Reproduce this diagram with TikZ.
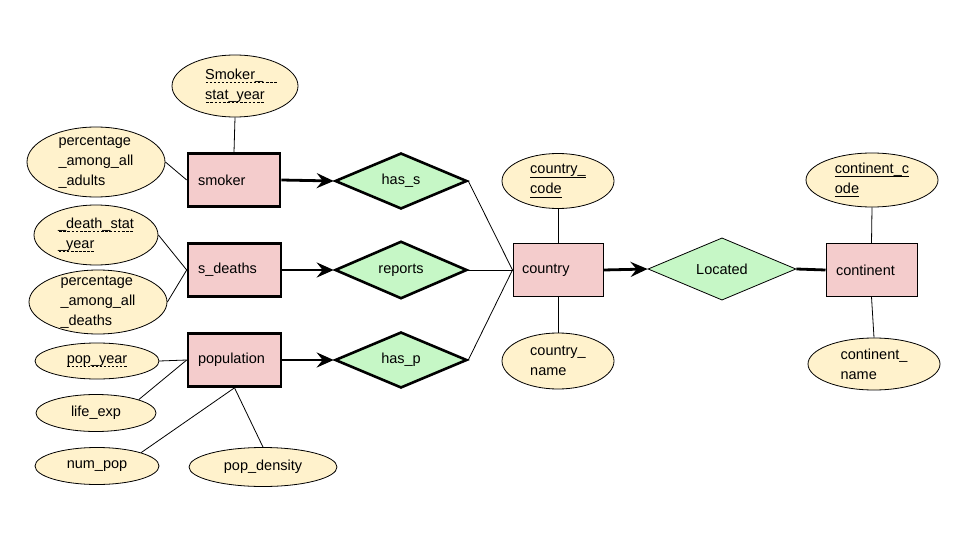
\documentclass[tikz,border=0pt]{standalone}
\usepackage{fontspec}
\setmainfont{Liberation Sans}
\usetikzlibrary{shapes.geometric,arrows.meta}
\definecolor{attrfill}{HTML}{FFF2CC}
\definecolor{entfill}{HTML}{F4CCCC}
\definecolor{relfill}{HTML}{C6F7C6}
\newsavebox\myulbox
\newcommand{\solidul}[1]{\sbox\myulbox{#1}\rlap{\raisebox{-3.5pt}{\rule{\wd\myulbox}{0.7pt}}}\usebox\myulbox}
\newcommand{\dashul}[2][0pt]{\sbox\myulbox{#2}\rlap{\raisebox{-3.5pt}{\hbox to \dimexpr\wd\myulbox+#1\relax{\xleaders\hbox to 4pt{\hss\rule{2.6pt}{0.6pt}\hss}\hfill}}}\usebox\myulbox}
\begin{document}
\begin{tikzpicture}[x=1pt,y=-1pt,
  every node/.style={font=\fontsize{14.5}{20}\selectfont},
  lbl/.style={align=left,inner sep=0pt,font=\fontsize{14.5}{20}\selectfont},
  attr/.style={ellipse,draw=black,line width=0.8pt,fill=attrfill,inner sep=0pt},
  entity/.style={rectangle,draw=black,fill=entfill,minimum height=53pt,align=left,inner ysep=0pt},
  weakent/.style={entity,line width=2.6pt},
  strongent/.style={entity,line width=1pt},
  rel/.style={diamond,draw=black,fill=relfill,inner sep=0pt,minimum width=132pt,minimum height=56pt},
  conn/.style={line width=0.8pt},
  heavy/.style={line width=2.8pt},
  arr/.style={line width=2.8pt,-{Stealth[length=17pt,width=15pt,inset=6pt]}}
]
\useasboundingbox (0,0) rectangle (960,540);
\fill[white] (0,0) rectangle (960,540);

% entities
\node[weakent,text width=72pt,inner xsep=10pt] (smoker) at (234,180) {smoker};
\node[weakent,text width=73pt,inner xsep=10pt] (sdeaths) at (234.5,270) {s\_deaths};
\node[weakent,text width=73pt,inner xsep=10pt] (population) at (234.5,360) {population};
\node[strongent,text width=72pt,inner xsep=9pt] (country) at (558,270) {country};
\node[strongent,text width=71pt,inner xsep=10pt] (continent) at (871.5,270) {continent};

% relationships
\node[rel,line width=2.6pt] (hass) at (401,181) {has\_s};
\node[rel,line width=2.6pt] (reports) at (401,270) {reports};
\node[rel,line width=2.6pt] (hasp) at (401,360) {has\_p};
\node[rel,line width=0.8pt,minimum width=148pt,minimum height=56pt] (located) at (722,269) {Located};

% attributes
\node[attr,minimum width=126pt,minimum height=62pt,
  label={[lbl]center:{\dashul[14pt]{Smoker\_}\\\dashul{stat\_year}}}] (sstat) at (235,86) {};
\node[attr,minimum width=138pt,minimum height=70pt,
  label={[lbl]center:{percentage\\\_among\_all\\\_adults}}] (padults) at (96,162) {};
\node[attr,minimum width=124pt,minimum height=60pt,
  label={[lbl]center:{\dashul{\_death\_stat}\\\dashul{\_year}}}] (dstat) at (96,235) {};
\node[attr,minimum width=138pt,minimum height=64pt,
  label={[lbl]center:{percentage\\\_among\_all\\\_deaths}}] (pdeaths) at (98,302) {};
\node[attr,minimum width=124pt,minimum height=36pt,
  label={[lbl]center:{\dashul{pop\_year}}}] (popyear) at (97,361) {};
\node[attr,minimum width=120pt,minimum height=37pt,
  label={[lbl]center:{life\_exp}}] (lifeexp) at (96,413) {};
\node[attr,minimum width=124pt,minimum height=37pt,
  label={[lbl]center:{num\_pop}}] (numpop) at (97,466) {};
\node[attr,minimum width=148pt,minimum height=39pt,
  label={[lbl]center:{pop\_density}}] (popdens) at (263,467) {};
\node[attr,minimum width=112pt,minimum height=55pt,
  label={[lbl]center:{\solidul{country\_}\\\solidul{code}}}] (ccode) at (558,181) {};
\node[attr,minimum width=112pt,minimum height=56pt,
  label={[lbl]center:{country\_\\name}}] (cname) at (558,361) {};
\node[attr,minimum width=132pt,minimum height=54pt,
  label={[lbl]center:{\solidul{continent\_c}\\\solidul{ode}}}] (kcode) at (872,180) {};
\node[attr,minimum width=132pt,minimum height=52pt,
  label={[lbl]center:{continent\_\\name}}] (kname) at (874,364) {};

% attribute connectors
\draw[conn] (sstat.south) -- (smoker.north);
\draw[conn] (padults.east) -- (smoker.west);
\draw[conn] (dstat.east) -- (sdeaths.west);
\draw[conn] (pdeaths.east) -- (sdeaths.west);
\draw[conn] (popyear.east) -- (population.west);
\draw[conn] (lifeexp.north east) -- (population.west);
\draw[conn] (numpop.north east) -- (population.south);
\draw[conn] (popdens.north) -- (population.south);
\draw[conn] (ccode.south) -- (country.north);
\draw[conn] (cname.north) -- (country.south);
\draw[conn] (kcode.south) -- (continent.north);
\draw[conn] (kname.north) -- (continent.south);

% relationship connectors
\draw[arr] (smoker.east) -- (hass.west);
\draw[arr] (sdeaths.east) -- (reports.west);
\draw[arr] (population.east) -- (hasp.west);
\draw[conn] (hass.east) -- (country.west);
\draw[conn] (reports.east) -- (country.west);
\draw[conn] (hasp.east) -- (country.west);
\draw[arr] (country.east) -- (located.west);
\draw[heavy] (located.east) -- (continent.west);
\end{tikzpicture}
\end{document}
